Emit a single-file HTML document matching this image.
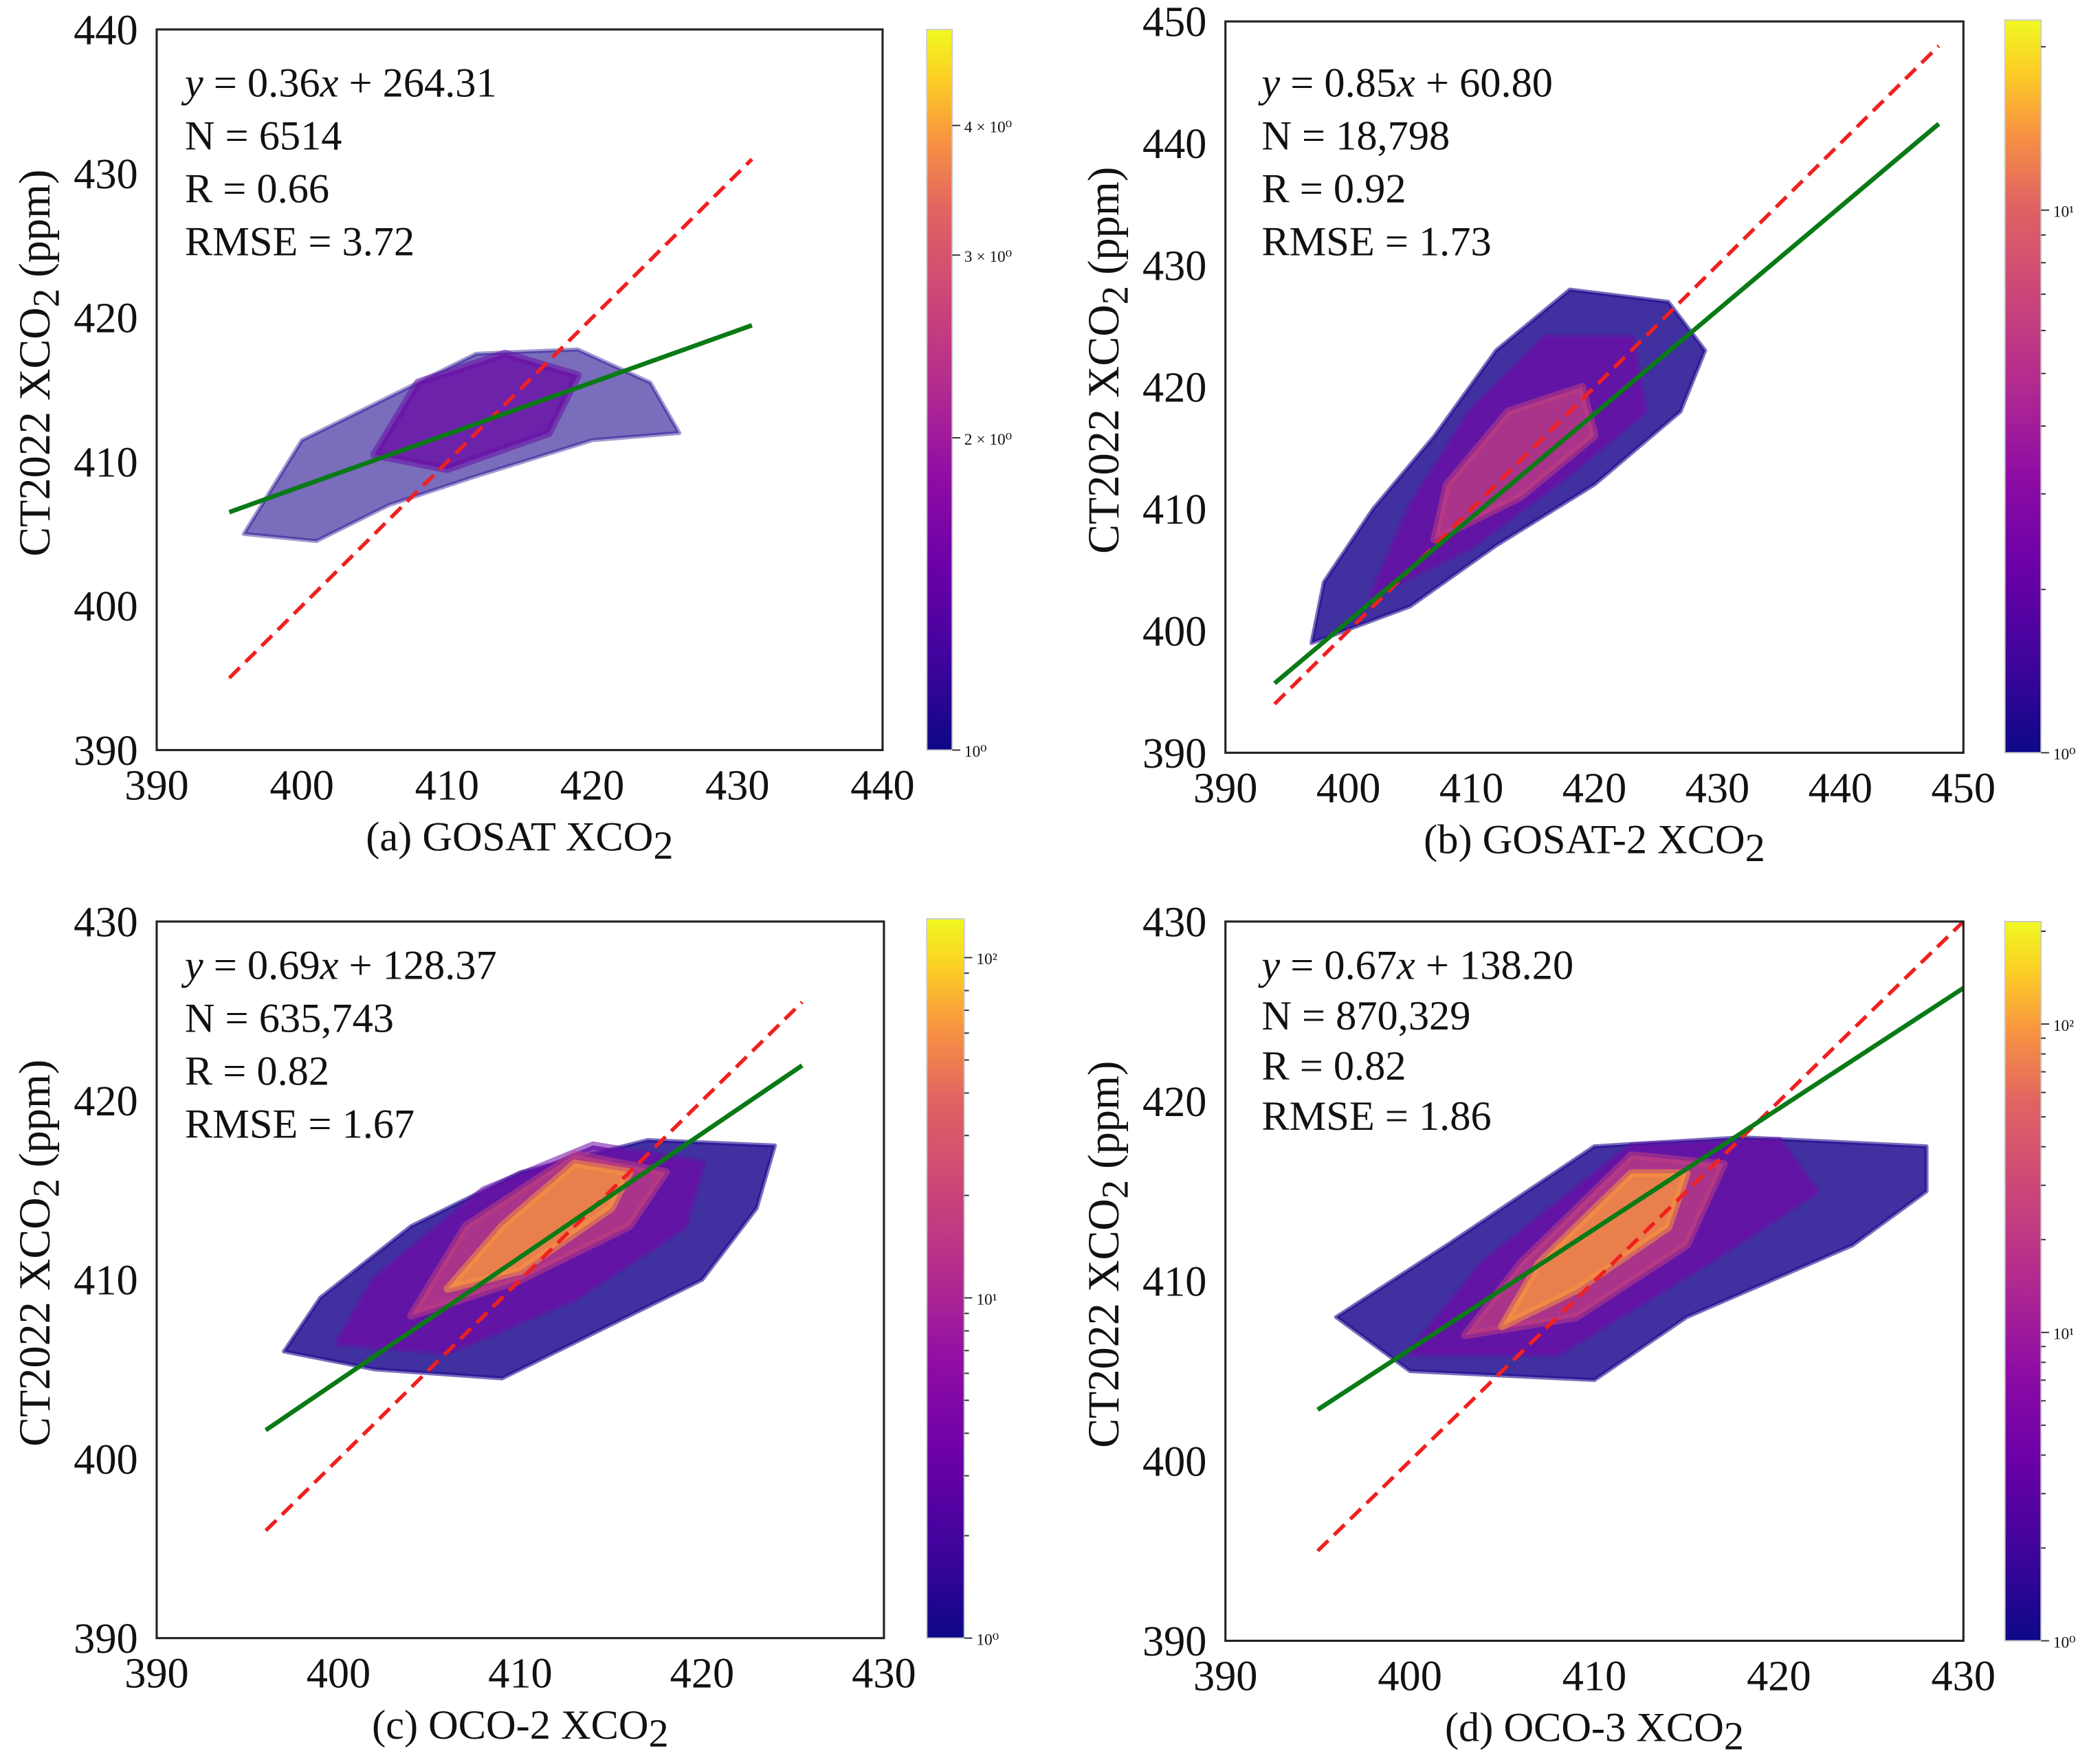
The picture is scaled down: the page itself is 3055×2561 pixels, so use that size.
<!DOCTYPE html>
<html><head><meta charset="utf-8">
<style>
html,body{margin:0;padding:0;background:#fff;}
svg{display:block;font-family:"Liberation Serif","DejaVu Serif",serif;}
svg text{font-family:"Liberation Serif","DejaVu Serif",serif;fill:#111;}
</style></head>
<body>
<svg id="fig" width="3055" height="2561" viewBox="0 0 1568 1314" preserveAspectRatio="none" xmlns="http://www.w3.org/2000/svg" font-family="Liberation Serif, DejaVu Serif, serif">
<defs>
<linearGradient id="plasma" x1="0" y1="1" x2="0" y2="0">
<stop offset="0" stop-color="#0d0887"/><stop offset="0.13" stop-color="#41049d"/>
<stop offset="0.25" stop-color="#6a00a8"/><stop offset="0.38" stop-color="#8f0da4"/>
<stop offset="0.5" stop-color="#b12a90"/><stop offset="0.63" stop-color="#cc4778"/>
<stop offset="0.75" stop-color="#e16462"/><stop offset="0.85" stop-color="#f89540"/>
<stop offset="0.93" stop-color="#fcce25"/><stop offset="1" stop-color="#f0f921"/>
</linearGradient>
</defs>
</svg>
<script>
// ---- data ----
const panelIds = ["a","b","c","d"];
const xTicksA = [390,400,410,420,430,440];
const yTicksA = [390,400,410,420,430,440];
const xTicksB = [390,400,410,420,430,440,450];
const yTicksB = [390,400,410,420,430,440,450];
const xTicksC = [390,400,410,420,430];
const yTicksC = [390,400,410,420,430];
const xTicksD = [390,400,410,420,430];
const yTicksD = [390,400,410,420,430];
const slopes = [0.36,0.85,0.69,0.67];
const intercepts = [264.31,60.80,128.37,138.20];
const fitStart = [395,394,396,395];
const fitEnd = [431,448,425.5,430];
const statsN = ["6514","18,798","635,743","870,329"];
const statsR = ["0.66","0.92","0.82","0.82"];
const statsRMSE = ["3.72","1.73","1.67","1.86"];
const xLabels = ["(a) GOSAT XCO","(b) GOSAT-2 XCO","(c) OCO-2 XCO","(d) OCO-3 XCO"];
const cbarMax = [4.95,22.4,130,215];
const cbarMajor = [[1,2,3,4],[1,10],[1,10,100],[1,10,100]];
const cbarMajorLbl = [["10⁰","2 × 10⁰","3 × 10⁰","4 × 10⁰"],["10⁰","10¹"],["10⁰","10¹","10²"],["10⁰","10¹","10²"]];
// density cloud outlines (data coords), levels: low -> high
const cloudA = [
 [[396,405],[401,404.5],[406,407],[412,409],[420,411.5],[426,412],[424,415.5],[419,417.8],[412,417.5],[406,414.5],[400,411.5]],
 [[405,410.5],[410,409.5],[417,412],[419,416],[414,417.5],[408,415.5]]
];
const cloudB = [
 [[397,399],[405,402],[412,407],[420,412],[427,418],[429,423],[426,427],[418,428],[412,423],[407,416],[402,410],[398,404]],
 [[402,403],[410,407],[418,413],[424,418],[423,424],[416,424],[410,418],[405,410]],
 [[407,407.5],[414,411],[420,416],[419,420],[413,418],[408,412]]
];
const cloudC = [
 [[397,406],[402,405],[409,404.5],[414,407],[420,410],[423,414],[424,417.5],[417,417.8],[410,416],[404,413],[399,409]],
 [[400,406.5],[406,406],[413,409],[419,413],[420,416.5],[414,417.5],[408,415],[402,410]],
 [[404,408],[410,410],[416,413],[418,416],[413,417],[407,413]],
 [[406,409.5],[410,410.5],[415,414],[416,416],[413,416.5],[409,413]]
];
const cloudD = [
 [[396,408],[400,405],[410,404.5],[415,408],[424,412],[428,415],[428,417.5],[418,418],[410,417.5],[402,412]],
 [[400,406],[408,406],[416,411],[422,415],[420,417.8],[412,417.5],[404,411]],
 [[403,407],[409,408],[415,412],[417,416.5],[412,417],[406,411]],
 [[405,407.5],[409,409.5],[414,413],[415,416],[412,416],[407,411]]
];
const levelColors = ["#1f0c8f","#6a0fa5","#c23f80","#f7923f"];
const levelOpacity = [0.85,0.8,0.75,0.8];

// ---- layout ----
const boxes = [
 {x0:117,x1:659,y0:22,y1:560,cb:[692,711,22,560]},
 {x0:915,x1:1466,y0:16,y1:562,cb:[1497,1524,15,562]},
 {x0:117,x1:660,y0:688,y1:1223,cb:[692,720,686,1223]},
 {x0:915,x1:1466,y0:688,y1:1225,cb:[1497,1524,688,1225]}
];
const xt=[xTicksA,xTicksB,xTicksC,xTicksD], yt=[yTicksA,yTicksB,yTicksC,yTicksD];
const clouds=[cloudA,cloudB,cloudC,cloudD];
const NS="http://www.w3.org/2000/svg";
const svg=document.getElementById('fig');
const FF='Liberation Serif, DejaVu Serif, serif';
function mk(tag,attrs,parent){const e=document.createElementNS(NS,tag);for(const k in attrs)e.setAttribute(k,attrs[k]);if(tag==='text')e.setAttribute('font-family',FF);(parent||svg).appendChild(e);return e;}

panelIds.forEach((pid,i)=>{
 const b=boxes[i], xs=xt[i], ys=yt[i];
 const xmin=xs[0],xmax=xs[xs.length-1],ymin=ys[0],ymax=ys[ys.length-1];
 const X=v=>b.x0+(v-xmin)/(xmax-xmin)*(b.x1-b.x0);
 const Y=v=>b.y1-(v-ymin)/(ymax-ymin)*(b.y1-b.y0);
 const g=mk('g',{});
 
 
 clouds[i].forEach((poly,l)=>{
  const op=(i===0&&l===0)?0.6:levelOpacity[l];
  const p=mk('polygon',{points:poly.map(q=>X(q[0])+','+Y(q[1])).join(' '),fill:levelColors[l],'fill-opacity':op,stroke:levelColors[l],'stroke-width':(l===0?3:6),'stroke-linejoin':'round','stroke-opacity':op*0.7},g);
  
  
 });
 const r=mk('line',{x1:X(fitStart[i]),y1:Y(fitStart[i]),x2:X(fitEnd[i]),y2:Y(fitEnd[i]),stroke:'#f02020','stroke-width':2.8,'stroke-dasharray':'11,6'},g);
 
 
 const f=mk('line',{x1:X(fitStart[i]),y1:Y(slopes[i]*fitStart[i]+intercepts[i]),x2:X(fitEnd[i]),y2:Y(slopes[i]*fitEnd[i]+intercepts[i]),stroke:'#0a7a16','stroke-width':3.4},g);
 
 
 const bx=mk('rect',{x:b.x0,y:b.y0,width:b.x1-b.x0,height:b.y1-b.y0,fill:'none',stroke:'#222','stroke-width':1.6},g);
 
 
 xs.forEach(v=>{const t=mk('text',{x:X(v),y:b.y1+37,'font-size':32,'text-anchor':'middle'},g);t.textContent=v;
  });
 ys.forEach(v=>{const t=mk('text',{x:b.x0-14,y:Y(v)+11,'font-size':32,'text-anchor':'end'},g);t.textContent=v;
  });
 const xl=mk('text',{x:(b.x0+b.x1)/2,y:b.y1+75,'font-size':31,'text-anchor':'middle'},g);
 xl.textContent=xLabels[i];
 const sub=mk('tspan',{dy:6,'font-size':30},xl);sub.textContent='2';
 
 const cy=(b.y0+b.y1)/2 - 20;
 const yl=mk('text',{x:0,y:0,'font-size':33,'text-anchor':'middle',transform:`translate(${b.x0-80},${cy}) rotate(-90)`},g);
 yl.appendChild(document.createTextNode('CT2022 XCO'));
 const s2=mk('tspan',{dy:7,'font-size':28},yl);s2.textContent='2';
 const s3=mk('tspan',{dy:-7,'font-size':33},yl);s3.textContent=' (ppm)';
 
 const tx=b.x0+(i%2?27:21), ty=b.y0+(i<2?(i?56:50):43);
 const lines=[null,'N = '+statsN[i],'R = '+statsR[i],'RMSE = '+statsRMSE[i]];
 lines.forEach((ln,k)=>{
  const t=mk('text',{x:tx,y:ty+k*(i===3?37.5:39.5),'font-size':31},g);
  if(k===0){const a=mk('tspan',{'font-style':'italic'},t);a.textContent='y';
   t.appendChild(document.createTextNode(' = '+slopes[i].toFixed(2)));
   const c=mk('tspan',{'font-style':'italic'},t);c.textContent='x';
   t.appendChild(document.createTextNode(' + '+intercepts[i].toFixed(2)));
   }
  else {t.textContent=ln;}
  
 });
 const [cx0,cx1,cy0,cy1]=b.cb;
 const cbr=mk('rect',{x:cx0,y:cy0,width:cx1-cx0,height:cy1-cy0,fill:'url(#plasma)',stroke:'#ccc','stroke-width':1},g);
 
 const C=v=>cy1-Math.log10(v)/Math.log10(cbarMax[i])*(cy1-cy0);
 for(let d=1;d<cbarMax[i];d*=10){for(let m=1;m<10;m++){const v=d*m;if(v>cbarMax[i])break;
  const major=cbarMajor[i].includes(v);
  mk('line',{x1:cx1,x2:cx1+(major?6:3.5),y1:C(v),y2:C(v),stroke:'#333','stroke-width':1},g);}}
 cbarMajor[i].forEach((v,k)=>{const t=mk('text',{x:cx1+9,y:C(v)+5,'font-size':12,fill:'#555'},g);
  t.textContent=cbarMajorLbl[i][k];});
});
</script>
</body></html>
